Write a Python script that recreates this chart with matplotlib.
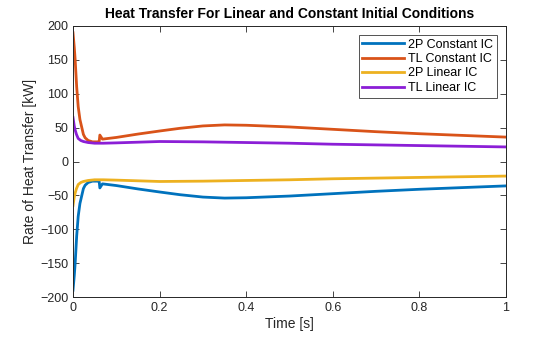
import matplotlib
matplotlib.use("Agg")
import matplotlib.pyplot as plt

plt.rcParams["font.family"] = ["Liberation Sans", "DejaVu Sans"]

# Heat transfer traces (time [s], rate [kW])
t_const = [0.0, 0.003, 0.005, 0.0085, 0.012, 0.016, 0.02, 0.024, 0.028, 0.035,
           0.045, 0.058, 0.0605, 0.062, 0.068, 0.1, 0.15, 0.2, 0.247, 0.3,
           0.35, 0.4, 0.5, 0.6, 0.7, 0.8, 0.9, 1.0]
tl_const = [190, 168, 150, 110, 81, 62, 51, 40, 35, 31,
            29, 29, 29.5, 39, 33, 35.5, 40.5, 45, 49, 52.5,
            54, 53.5, 51, 47.5, 44, 41, 38.5, 36]
tp_const = [-190, -168, -150, -110, -81, -62, -51, -40, -35, -31,
            -29, -29, -29.5, -39, -33, -35.5, -40.5, -45, -49, -52.5,
            -54, -53.5, -51, -47.5, -44, -41, -38.5, -36]

t_lin = [0.0, 0.003, 0.005, 0.008, 0.012, 0.018, 0.024, 0.035, 0.05, 0.07,
         0.1, 0.15, 0.2, 0.3, 0.4, 0.5, 0.6, 0.7, 0.8, 0.9, 1.0]
tl_lin = [65, 52, 46.5, 40, 34, 31, 29.5, 28, 27, 27,
          27.5, 28.5, 29.5, 29, 28, 27, 25.5, 24.5, 23.5, 22.5, 21.5]
tp_lin = [-65, -52, -46.5, -40, -34, -31, -29.5, -28, -27, -27,
          -27.5, -28.5, -29.5, -29, -28, -27, -25.5, -24.5, -23.5, -22.5, -21.5]

fig = plt.figure(figsize=(5.6, 3.37), dpi=100)
ax = fig.add_axes([73 / 560, 1 - 297 / 337, 433 / 560, 271 / 337])

ax.plot(t_const, tp_const, color="#0072BD", lw=2, label="2P Constant IC")
ax.plot(t_const, tl_const, color="#D95319", lw=2, label="TL Constant IC")
ax.plot(t_lin, tp_lin, color="#EDB120", lw=2, label="2P Linear IC")
ax.plot(t_lin, tl_lin, color="#8B1ED6", lw=2, label="TL Linear IC")

ax.set_xlim(0, 1)
ax.set_ylim(-200, 200)
ax.set_xticks([0, 0.2, 0.4, 0.6, 0.8, 1])
ax.set_xticklabels(["0", "0.2", "0.4", "0.6", "0.8", "1"])
ax.set_yticks(range(-200, 201, 50))
ax.tick_params(direction="in", top=True, right=True, labelsize=9,
               length=4, width=0.6, colors="#262626", labelcolor="#262626")
for sp in ax.spines.values():
    sp.set_linewidth(0.7)
    sp.set_color("#262626")

ax.set_xlabel("Time [s]", fontsize=10, color="#262626", labelpad=2)
ax.set_ylabel("Rate of Heat Transfer [kW]", fontsize=10, color="#262626", labelpad=2)
ax.set_title("Heat Transfer For Linear and Constant Initial Conditions",
             fontsize=10, fontweight="bold", pad=6)

leg = ax.legend(loc="upper right", fontsize=9, frameon=True, fancybox=False,
                edgecolor="#262626", handlelength=3.3, borderpad=0.3,
                labelspacing=0.2, handletextpad=0.4, borderaxespad=0.7)
leg.get_frame().set_linewidth(0.7)

fig.savefig("out.png", dpi=100)
